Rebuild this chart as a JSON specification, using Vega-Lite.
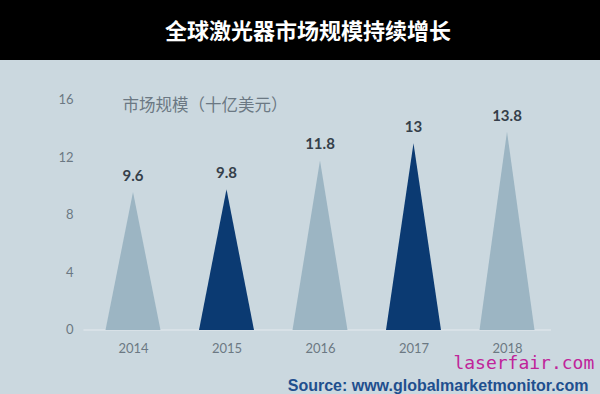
{
  "$schema": "https://vega.github.io/schema/vega-lite/v6.json",
  "autosize": "none",
  "width": 600,
  "height": 334,
  "padding": {"top": 60, "left": 0, "right": 0, "bottom": 0},
  "background": "#000000",
  "view": {"fill": "#cbd8df", "stroke": null},
  "title": {
    "text": "全球激光器市场规模持续增长",
    "color": "#ffffff",
    "font": "Noto Sans CJK SC",
    "fontSize": 22,
    "fontWeight": "bold",
    "anchor": "middle",
    "dx": 8,
    "offset": 16
  },
  "data": {
    "values": [
      {"year": 2014, "value": 9.6, "group": "light"},
      {"year": 2015, "value": 9.8, "group": "dark"},
      {"year": 2016, "value": 11.8, "group": "light"},
      {"year": 2017, "value": 13, "group": "dark"},
      {"year": 2018, "value": 13.8, "group": "light"}
    ]
  },
  "layer": [
    {
      "mark": {"type": "rule", "color": "#dde5ea", "strokeWidth": 1.5},
      "data": {"values": [{"a": 0}]},
      "encoding": {
        "x": {"datum": 2013.47, "type": "quantitative"},
        "x2": {"datum": 2018.47},
        "y": {"datum": 0, "type": "quantitative"}
      }
    },
    {
      "transform": [
        {"calculate": "[0, 1]", "as": "k"},
        {"flatten": ["k"]},
        {"calculate": "datum.k * datum.value", "as": "h"},
        {"calculate": "datum.year - 0.294 * (1 - datum.k)", "as": "xl"},
        {"calculate": "datum.year + 0.294 * (1 - datum.k)", "as": "xr"}
      ],
      "mark": {"type": "area", "orient": "horizontal"},
      "encoding": {
        "y": {
          "field": "h",
          "type": "quantitative",
          "scale": {"domain": [-4.4522, 18.7826], "nice": false, "zero": false},
          "axis": {
            "title": "市场规模（十亿美元）",
            "titleAngle": 0,
            "titleX": 47,
            "titleY": 45,
            "titleAlign": "left",
            "titleBaseline": "middle",
            "titleFont": "Noto Sans CJK SC",
            "titleFontSize": 16.5,
            "titleFontWeight": "normal",
            "titleColor": "#6b7883",
            "values": [0, 4, 8, 12, 16],
            "offset": -75,
            "domain": false,
            "ticks": false,
            "grid": false,
            "labelPadding": 2,
            "labelFont": "Lato",
            "labelFontSize": 13,
            "labelColor": "#6b7883"
          }
        },
        "x": {
          "field": "xl",
          "type": "quantitative",
          "stack": null,
          "scale": {"domain": [2012.5775, 2018.9947], "nice": false, "zero": false},
          "axis": {
            "title": "Source: www.globalmarketmonitor.com",
            "titleX": 588,
            "titleY": 45,
            "titleAnchor": null,
            "titleAlign": "right",
            "titleBaseline": "middle",
            "titleFont": "Liberation Sans",
            "titleFontSize": 16,
            "titleFontWeight": "bold",
            "titleColor": "#1f4f8e",
            "values": [2014, 2015, 2016, 2017, 2018],
            "format": "d",
            "offset": -54,
            "domain": false,
            "ticks": false,
            "grid": false,
            "labelPadding": 2,
            "labelFlush": false,
            "labelFont": "Lato",
            "labelFontSize": 13,
            "labelColor": "#6b7883"
          }
        },
        "x2": {"field": "xr"},
        "detail": {"field": "year"},
        "color": {
          "field": "group",
          "type": "nominal",
          "scale": {"domain": ["light", "dark"], "range": ["#9cb5c3", "#0b3a72"]},
          "legend": null
        }
      }
    },
    {
      "mark": {"type": "text", "baseline": "middle", "dy": -16, "font": "Lato", "fontSize": 15, "fontWeight": "bold", "color": "#353f4a"},
      "encoding": {
        "x": {"field": "year", "type": "quantitative"},
        "y": {"field": "value", "type": "quantitative"},
        "text": {"field": "value", "type": "quantitative"}
      }
    },
    {
      "data": {"values": [{"t": "laserfair.com"}]},
      "mark": {"type": "text", "baseline": "middle", "align": "center", "font": "DejaVu Sans Mono", "fontSize": 18, "color": "#c0249a"},
      "encoding": {
        "x": {"datum": 2018.18, "type": "quantitative"},
        "y": {"datum": -2.35, "type": "quantitative"},
        "text": {"field": "t", "type": "nominal"}
      }
    }
  ]
}
